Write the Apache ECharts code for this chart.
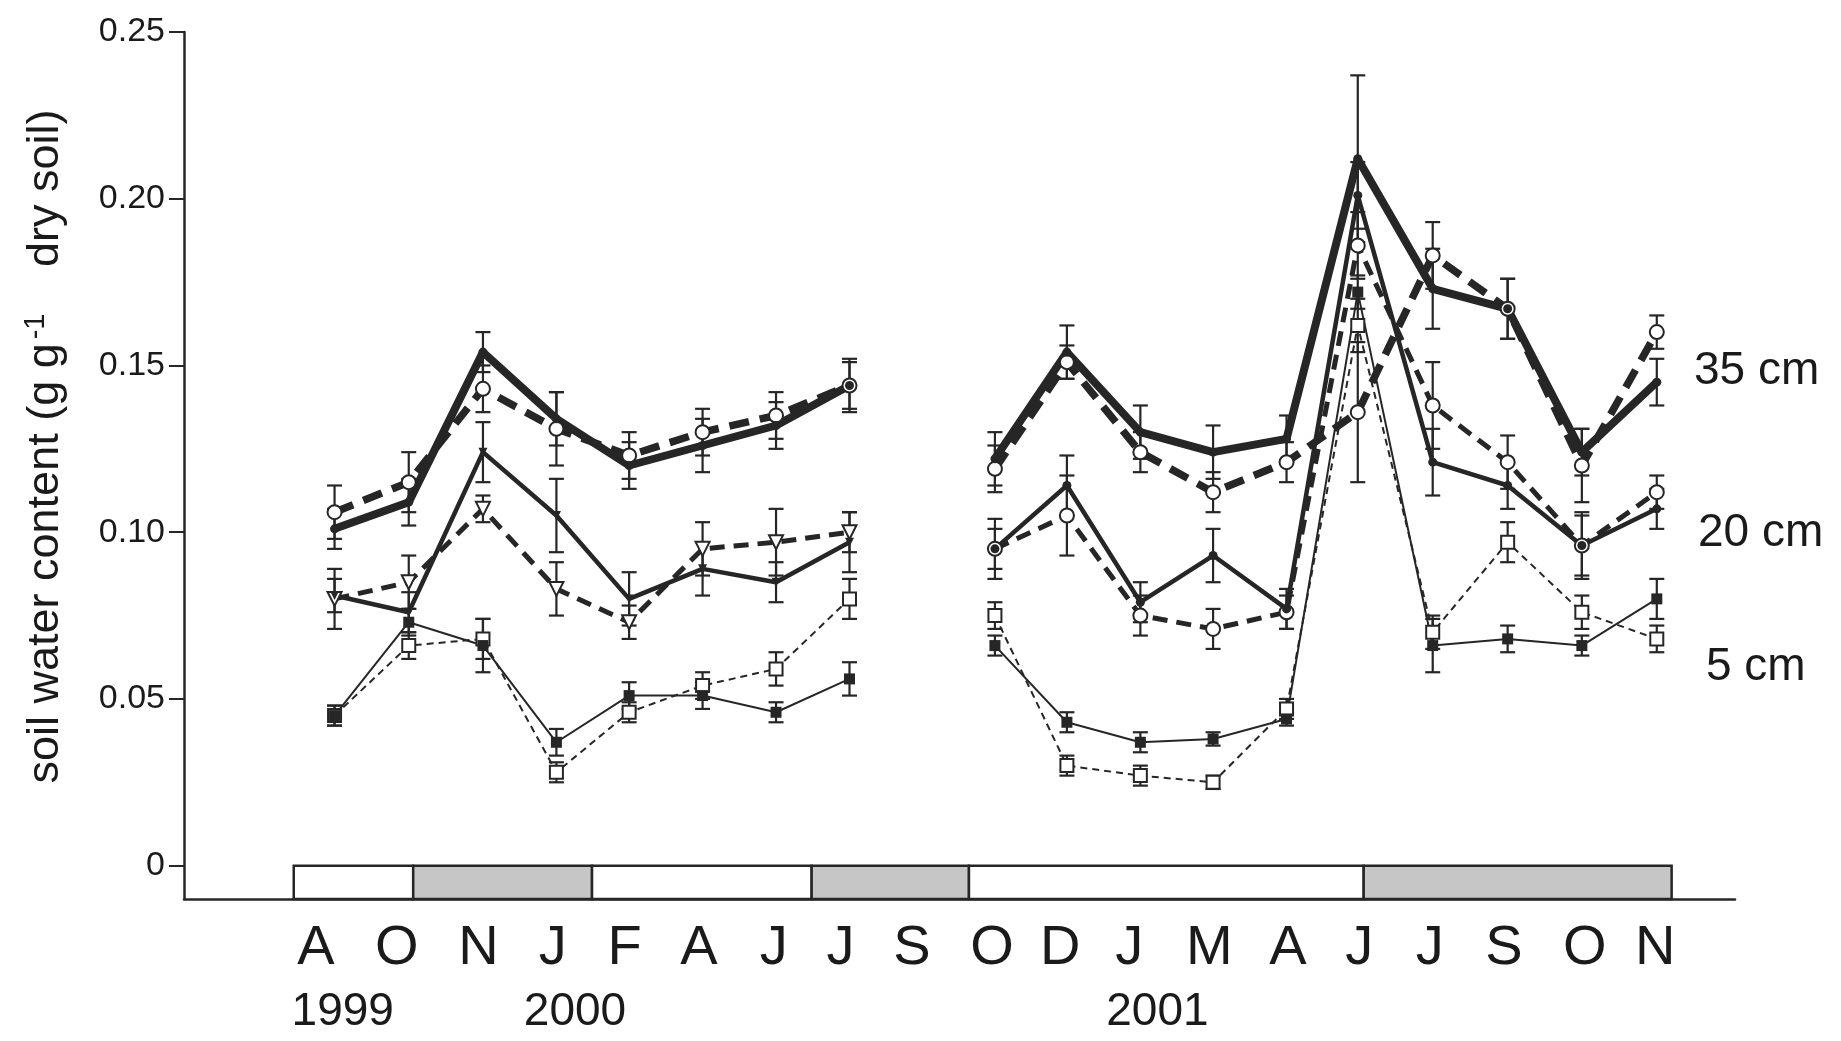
<!DOCTYPE html>
<html><head><meta charset="utf-8">
<script src="https://cdn.jsdelivr.net/npm/echarts@6/dist/echarts.min.js"></script>
<style>html,body{margin:0;padding:0;background:#fff}#c{width:1841px;height:1041px}</style>
</head><body><div id="c"></div>
<script>
// ---------- data ----------
const months   = ['A','O','N','J','F','A','J','J','S','O','D','J','M','A','J','J','S','O','N'];
const monthPos = [0, 1.09, 2.19, 3.19, 4.16, 5.16, 6.17, 7.07, 8.03, 9.11, 10.03, 10.96, 12.04, 13.1, 14.06, 15.01, 16.01, 17.1, 18.05];
const yearLabels = ['1999','2000','2001'];
const yearPos = [0.36, 3.49, 11.34];
const yTicks = [0, 0.05, 0.10, 0.15, 0.20, 0.25];
// sampling dates (month units), null = no sampling in S 2000
const sampleX = [0.25, 1.25, 2.25, 3.24, 4.22, 5.21, 6.20, 7.19, null, 9.15, 10.12, 11.11, 12.09, 13.08, 14.04, 15.05, 16.06, 17.06, 18.07];

const s35solid = [0.101,0.109,0.154,0.134,0.120,0.126,0.132,0.144,null,0.122,0.154,0.130,0.124,0.128,0.212,0.173,0.167,0.124,0.145];
const s35dash  = [0.106,0.115,0.143,0.131,0.123,0.130,0.135,0.144,null,0.119,0.151,0.124,0.112,0.121,0.136,0.183,0.167,0.120,0.160];
const s20solid = [0.081,0.076,0.124,0.105,0.080,0.089,0.085,0.097,null,0.095,0.114,0.079,0.093,0.077,0.201,0.121,0.114,0.096,0.107];
const s20dash  = [0.080,0.085,0.107,0.083,0.073,0.095,0.097,0.100,null,0.095,0.105,0.075,0.071,0.076,0.186,0.138,0.121,0.096,0.112];
const s5solid  = [0.045,0.073,0.066,0.037,0.051,0.051,0.046,0.056,null,0.066,0.043,0.037,0.038,0.044,0.172,0.066,0.068,0.066,0.080];
const s5dash   = [0.045,0.066,0.068,0.028,0.046,0.054,0.059,0.080,null,0.075,0.030,0.027,0.025,0.047,0.162,0.070,0.097,0.076,0.068];

const e35solid = [0.006,0.007,0.006,0.008,0.007,0.008,0.007,0.007,null,0.008,0.008,0.008,0.008,0.007,0.025,0.012,0.009,0.007,0.007];
const e35dash  = [0.008,0.009,0.007,0.011,0.007,0.007,0.007,0.008,null,0.007,0.005,0.006,0.006,0.006,0.021,0.010,0.009,0.011,0.005];
const e20solid = [0.005,0.006,0.009,0.011,0.008,0.008,0.006,0.009,null,0.009,0.009,0.006,0.008,0.006,0.010,0.010,0.007,0.009,0.006];
const e20dash  = [0.009,0.008,0.004,0.008,0.005,0.008,0.010,0.006,null,0.006,0.012,0.006,0.006,0.005,0.010,0.013,0.008,0.010,0.005];
const e5solid  = [0.003,0.004,0.008,0.004,0.004,0.004,0.003,0.005,null,0.003,0.003,0.003,0.002,0.002,0.005,0.008,0.004,0.003,0.006];
const e5dash   = [0.003,0.004,0.006,0.003,0.003,0.004,0.005,0.006,null,0.004,0.003,0.003,0.002,0.003,0.008,0.005,0.006,0.005,0.004];

const seasonStart = [-0.30, 1.31, 3.72, 6.68, 8.80, 14.12];
const seasonEnd   = [ 1.31, 3.72, 6.68, 8.80, 14.12, 18.27];
const seasonShade = [0, 1, 0, 1, 0, 1];
const depthLabels = ['35 cm', '20 cm', '5 cm'];

// ---------- chart ----------
const INK = '#262626';
const TXT = '#1a1a1a';
const chart = echarts.init(document.getElementById('c'));
const invTri = 'path://M0,0L10,0L5,9Z';

function lineData(vals, symFn) {
  return vals.map((v, i) => {
    const item = { value: [sampleX[i] == null ? 8 : sampleX[i], v == null ? null : v] };
    if (symFn) item.symbol = symFn(i);
    return item;
  });
}
function errData(vals, errs) {
  const out = [];
  vals.forEach((v, i) => {
    if (v != null) out.push([sampleX[i], v - errs[i], v + errs[i]]);
  });
  return out;
}
function errRender(params, api) {
  const x = api.value(0), lo = api.value(1), hi = api.value(2);
  const a = api.coord([x, lo]), b = api.coord([x, hi]);
  const w = 7.5;
  const st = { stroke: INK, lineWidth: 2.2 };
  return { type: 'group', children: [
    { type: 'line', shape: { x1: a[0], y1: a[1], x2: b[0], y2: b[1] }, style: st },
    { type: 'line', shape: { x1: a[0]-w, y1: a[1], x2: a[0]+w, y2: a[1] }, style: st },
    { type: 'line', shape: { x1: b[0]-w, y1: b[1], x2: b[0]+w, y2: b[1] }, style: st }
  ]};
}
const triOrCircle = i => (i < 8 ? invTri : 'circle');

const errSeries = [[s35solid,e35solid],[s35dash,e35dash],[s20solid,e20solid],[s20dash,e20dash],[s5solid,e5solid],[s5dash,e5dash]]
  .map(p => ({ type: 'custom', renderItem: errRender, data: errData(p[0], p[1]), z: 2, silent: true }));

const seasonData = seasonStart.map((s, i) => [s, seasonEnd[i], seasonShade[i]]);
const XMIN = -1.779, XMAX = 19.124;

const option = {
  animation: false,
  backgroundColor: '#fff',
  grid: { left: 184, right: 106, top: 32, bottom: 142, containLabel: false },
  xAxis: [{
    type: 'value', min: XMIN, max: XMAX,
    axisLine: { show: true, onZero: false, lineStyle: { color: INK, width: 2.5 } },
    axisTick: { show: false }, splitLine: { show: false },
    axisLabel: { customValues: monthPos, formatter: v => months[monthPos.indexOf(v)],
      fontFamily: 'Liberation Sans Narrow, Liberation Sans, Arial', fontSize: 56, color: TXT, margin: 22 }
  }, {
    type: 'value', min: XMIN, max: XMAX, position: 'bottom',
    axisLine: { show: false, onZero: false }, axisTick: { show: false }, splitLine: { show: false },
    axisLabel: { customValues: yearPos, formatter: v => yearLabels[yearPos.indexOf(v)],
      fontFamily: 'Liberation Sans Narrow, Liberation Sans, Arial', fontSize: 46, color: TXT, margin: 90 }
  }],
  yAxis: {
    type: 'value', min: -0.01, max: 0.25,
    axisLine: { show: true, onZero: false, lineStyle: { color: INK, width: 2.5 } },
    axisTick: { show: true, customValues: yTicks, length: 15, lineStyle: { color: INK, width: 2 } },
    splitLine: { show: false },
    axisLabel: { customValues: yTicks, formatter: v => (v === 0 ? '0' : v.toFixed(2)),
      fontFamily: 'Liberation Sans, Arial', fontSize: 34, color: TXT, margin: 19 },
    name: 'soil water content (g g{sup|-1} dry soil)',
    nameLocation: 'middle', nameGap: 114,
    nameTextStyle: { fontFamily: 'Liberation Sans Narrow, Liberation Sans, Arial', fontSize: 45, color: TXT,
      padding: [0, 0, 0, 38],
      rich: { sup: { fontSize: 29, verticalAlign: 'top', padding: [0, 34, 20, 4], fontFamily: 'Liberation Sans Narrow, Liberation Sans, Arial', color: TXT } } }
  },
  series: [
    { type: 'custom', silent: true, z: 1, data: seasonData,
      renderItem: (params, api) => {
        const a = api.coord([api.value(0), 0]);
        const b = api.coord([api.value(1), -0.01]);
        return { type: 'rect', shape: { x: a[0], y: a[1], width: b[0]-a[0], height: b[1]-a[1] },
          style: { fill: api.value(2) ? '#c6c6c6' : '#ffffff', stroke: INK, lineWidth: 2.5 } };
      } },
    ...errSeries,
    { name: '5 cm dash', type: 'line', data: lineData(s5dash), z: 3, symbol: 'rect', symbolSize: 13,
      lineStyle: { color: INK, width: 2, type: [7, 5] }, itemStyle: { color: '#fff', borderColor: INK, borderWidth: 2 } },
    { name: '5 cm', type: 'line', data: lineData(s5solid), z: 3, symbol: 'rect', symbolSize: 11,
      lineStyle: { color: INK, width: 2 }, itemStyle: { color: INK } },
    { name: '20 cm dash', type: 'line', data: lineData(s20dash, triOrCircle), z: 4, symbolSize: 14,
      lineStyle: { color: INK, width: 5, type: [15, 9] }, itemStyle: { color: '#fff', borderColor: INK, borderWidth: 2 } },
    { name: '20 cm', type: 'line', data: lineData(s20solid, triOrCircle), z: 4, symbolSize: 9,
      lineStyle: { color: INK, width: 4.5 }, itemStyle: { color: INK } },
    { name: '35 cm dash', type: 'line', data: lineData(s35dash), z: 5, symbol: 'circle', symbolSize: 14,
      lineStyle: { color: INK, width: 7.5, type: [20, 11] }, itemStyle: { color: '#fff', borderColor: INK, borderWidth: 2 } },
    { name: '35 cm', type: 'line', data: lineData(s35solid), z: 5, symbol: 'circle', symbolSize: 9,
      lineStyle: { color: INK, width: 8 }, itemStyle: { color: INK } }
  ],
  graphic: [
    { type: 'text', left: 1694, top: 348, style: { text: depthLabels[0], font: '46px "Liberation Sans", Arial', fill: TXT } },
    { type: 'text', left: 1698, top: 510, style: { text: depthLabels[1], font: '46px "Liberation Sans", Arial', fill: TXT } },
    { type: 'text', left: 1706, top: 644, style: { text: depthLabels[2], font: '46px "Liberation Sans", Arial', fill: TXT } }
  ]
};
chart.setOption(option);
</script></body></html>
